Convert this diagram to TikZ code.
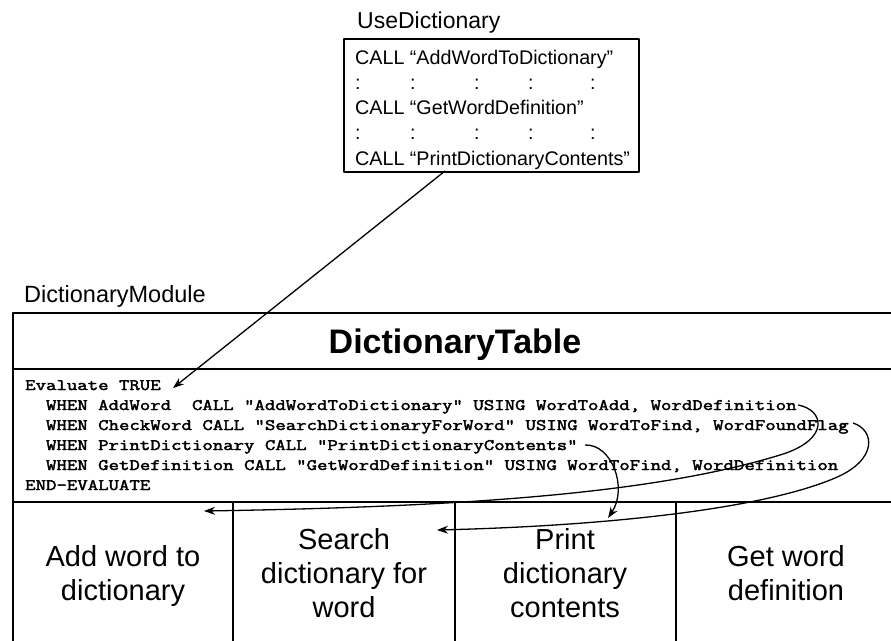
\documentclass[tikz,border=0pt]{standalone}
\usepackage{fontspec}
\setmainfont{Liberation Sans}
\newfontfamily\codefont[FakeStretch=1.265,FakeBold=2.6]{Latin Modern Mono}
\usetikzlibrary{arrows.meta}
\newcommand\leftlines[2]{\vtop{\baselineskip=#1\lineskiplimit=-40pt\halign{##\hfil\cr#2\crcr}}}
\newcommand\ctrlines[2]{\vtop{\baselineskip=#1\lineskiplimit=-40pt\halign{\hfil##\hfil\cr#2\crcr}}}
\newcommand\colonrow{\rlap{:}\hspace*{55pt}\rlap{:}\hspace*{64pt}\rlap{:}\hspace*{54pt}\rlap{:}\hspace*{62pt}\rlap{:}}
\begin{document}
\begin{tikzpicture}[x=1pt,y=-1pt,line join=round,
  frame/.style={draw=black,line width=1.6pt},
  arr/.style={draw=black,line width=1.3pt,-{Stealth[length=11pt,width=8pt]}},
  lbl/.style={anchor=base west,inner sep=0pt,font=\fontsize{23}{28}\selectfont},
  colt/.style={anchor=base,inner sep=0pt,font=\fontsize{29}{34}\selectfont}]
\useasboundingbox (0,0) rectangle (891,640);
\clip (0,0) rectangle (891,640);
\fill[white] (0,0) rectangle (891,640);

% UseDictionary
\node[lbl] (uselbl) at (357,28) {UseDictionary};
\node[frame,anchor=north west,minimum width=295pt,minimum height=133pt,inner sep=0pt] (usebox) at (343,38) {};
\node[anchor=base west,inner sep=0pt,font=\fontsize{19.7}{25.3}\selectfont] (usetext) at (355,64)
  {\leftlines{25.3pt}{CALL “AddWordToDictionary”\cr \colonrow\cr CALL “GetWordDefinition”\cr \colonrow\cr CALL “PrintDictionaryContents”}};

% DictionaryModule
\node[lbl,font=\fontsize{23.5}{28}\selectfont] (modlbl) at (24,302) {DictionaryModule};
\draw[frame] (13,313) rectangle (897,660);
\draw[frame] (13,369) -- (897,369);
\draw[frame] (13,502) -- (897,502);
\draw[frame] (233,502) -- (233,660);
\draw[frame] (455,502) -- (455,660);
\draw[frame] (676,502) -- (676,660);
\node[anchor=base,inner sep=0pt,font=\bfseries\fontsize{34}{40}\selectfont] (tabtitle) at (455,353) {DictionaryTable};

\node[anchor=base west,inner sep=0pt,font=\codefont\fontsize{16}{20}\selectfont] (code) at (25,390)
  {\leftlines{20pt}{Evaluate TRUE\cr
  ~~WHEN AddWord~~CALL “AddWordToDictionary” USING WordToAdd, WordDefinition\cr
  ~~WHEN CheckWord CALL “SearchDictionaryForWord” USING WordToFind, WordFoundFlag\cr
  ~~WHEN PrintDictionary CALL “PrintDictionaryContents”\cr
  ~~WHEN GetDefinition CALL “GetWordDefinition” USING WordToFind, WordDefinition\cr
  END-EVALUATE}};

\node[colt] (col1) at (123,566) {\ctrlines{34pt}{Add word to\cr dictionary}};
\node[colt] (col2) at (344,549) {\ctrlines{34pt}{Search\cr dictionary for\cr word}};
\node[colt] (col3) at (565,549) {\ctrlines{34pt}{Print\cr dictionary\cr contents}};
\node[colt] (col4) at (786,566) {\ctrlines{34pt}{Get word\cr definition}};

% connectors
\coordinate (usefoot) at (445,171);
\coordinate (evaltip) at (173,388);
\coordinate (addsrc) at (798,405);
\coordinate (addtip) at (204,511);
\coordinate (srchsrc) at (853,423);
\coordinate (srchtip) at (437,530);
\coordinate (prtsrc) at (585,445);
\coordinate (prttip) at (608,518);

\draw[arr] (usefoot) -- (evaltip);
\draw[arr] (addsrc) .. controls (825,410) and (830,440) .. (780,455)
  .. controls (650,495) and (450,507) .. (addtip);
\draw[arr] (srchsrc) .. controls (875,430) and (878,460) .. (835,478)
  .. controls (760,510) and (600,526) .. (srchtip);
\draw[arr] (prtsrc) .. controls (612,444) and (628,488) .. (prttip);
\end{tikzpicture}
\end{document}
